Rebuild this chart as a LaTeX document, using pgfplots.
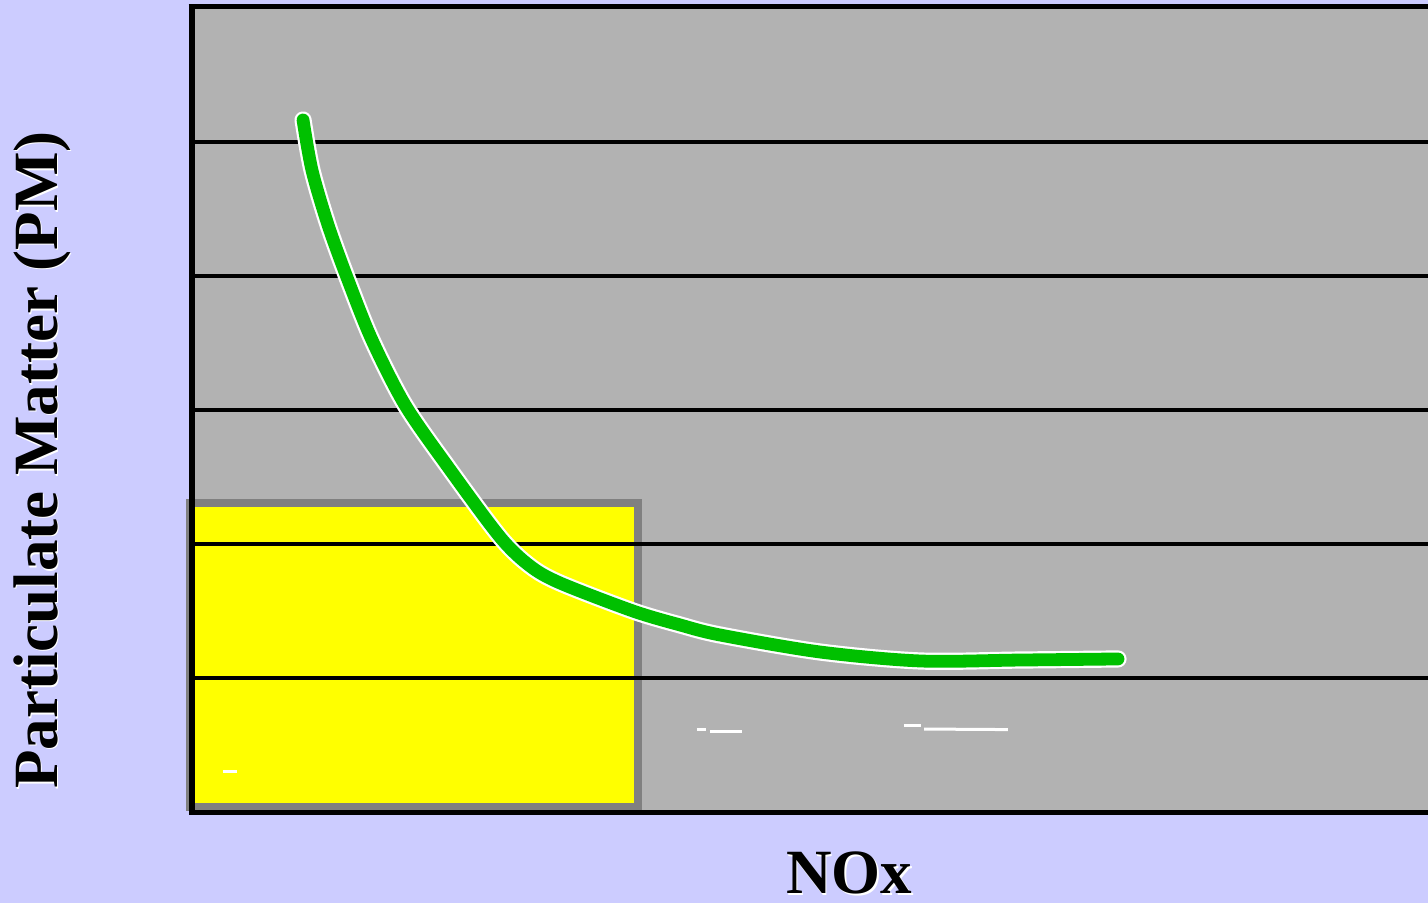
\documentclass[border=0pt]{standalone}
\usepackage{pgfplots}
\pgfplotsset{compat=1.18}
\usepackage{fontspec}
\setmainfont{Liberation Serif}
\definecolor{bglav}{RGB}{204,204,255}
\definecolor{plotgray}{RGB}{178,178,178}
\definecolor{boxgray}{RGB}{128,128,128}
\definecolor{curvegreen}{RGB}{0,192,0}
\definecolor{yel}{RGB}{255,255,0}
\begin{document}
\begin{tikzpicture}[x=1pt,y=1pt]
\fill[bglav] (0,0) rectangle (714,451.5);
\useasboundingbox (0,0) rectangle (714,451.5);
\begin{axis}[
  at={(95pt,45.5pt)}, anchor=south west,
  scale only axis, width=619pt, height=402pt,
  xmin=0, xmax=10, ymin=0, ymax=6,
  axis line style={draw=none},
  xtick=\empty, ytick=\empty,
  axis background/.style={fill=plotgray},
  clip=false,
]
% yellow region
\addplot[draw=boxgray, line width=4pt, fill=yel, line join=miter]
  coordinates {(0,0.041) (3.619,0.041) (3.619,2.306) (0,2.306)} -- cycle;
% horizontal grid lines
\addplot[black, line width=2.4pt] coordinates {(0,1) (10,1)};
\addplot[black, line width=2.4pt] coordinates {(0,2) (10,2)};
\addplot[black, line width=2.4pt] coordinates {(0,3) (10,3)};
\addplot[black, line width=2.4pt] coordinates {(0,4) (10,4)};
\addplot[black, line width=2.4pt] coordinates {(0,5) (10,5)};
% white dashes
\addplot[white, line width=1.5pt] coordinates {(0.267,0.299) (0.380,0.299)};
\addplot[white, line width=1.5pt] coordinates {(4.095,0.612) (4.168,0.612)};
\addplot[white, line width=1.5pt] coordinates {(4.200,0.597) (4.459,0.597)};
\addplot[white, line width=1.5pt] coordinates {(5.767,0.649) (5.905,0.649)};
\addplot[white, line width=1.5pt] coordinates {(5.929,0.619) (6.607,0.615)};
% curve
\pgfplotstableread{
x y
0.913 5.164
0.985 4.791
1.115 4.381
1.276 3.970
1.470 3.522
1.737 3.037
2.084 2.575
2.504 2.052
2.746 1.836
2.989 1.709
3.578 1.500
3.958 1.396
4.281 1.321
5.089 1.194
5.897 1.127
6.704 1.134
7.496 1.142
}\curvedata
\addplot[white, line width=8.6pt, line cap=round, line join=round, smooth, tension=0.5] table {\curvedata};
\addplot[curvegreen, line width=6.4pt, line cap=round, line join=round, smooth, tension=0.5] table {\curvedata};
\end{axis}
% frame lines
\draw[black, line width=3pt] (95.75,44) -- (95.75,449.5);
\draw[black, line width=2.5pt] (94.25,448.25) -- (714,448.25);
\draw[black, line width=2.5pt] (94.25,45.25) -- (714,45.25);
% labels
\node[white, anchor=base, rotate=90, font=\fontsize{31.5}{36}\selectfont\bfseries, inner sep=0pt] at (29.3,220.7) {Particulate Matter (PM)};
\node[black, anchor=base, rotate=90, font=\fontsize{31.5}{36}\selectfont\bfseries, inner sep=0pt] at (28.5,221.5) {Particulate Matter (PM)};
\node[white, anchor=base, font=\fontsize{31.5}{36}\selectfont\bfseries, inner sep=0pt] at (425.3,3.7) {NOx};
\node[black, anchor=base, font=\fontsize{31.5}{36}\selectfont\bfseries, inner sep=0pt] at (424.5,4.5) {NOx};
\end{tikzpicture}
\end{document}
